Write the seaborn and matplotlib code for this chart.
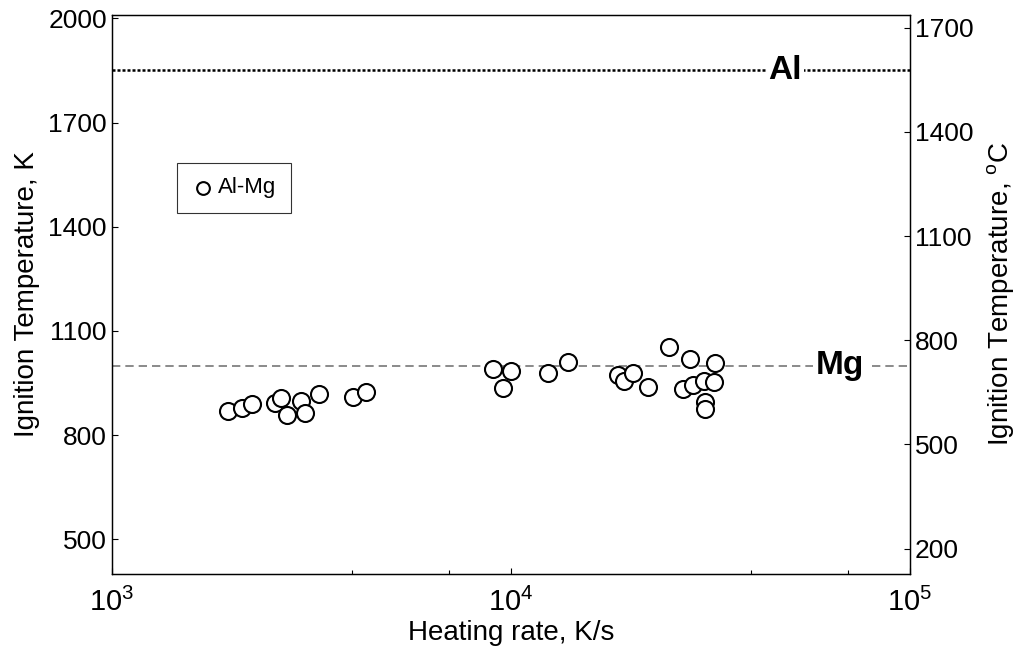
import matplotlib
matplotlib.use("Agg")
import matplotlib.pyplot as plt
import numpy as np
import pandas as pd
import seaborn as sns

# heating rate (K/s) and ignition temperature (K) for Al-Mg
heating_rate = [1953, 2118, 2243, 2562, 2652, 2746, 2977, 3046, 3302, 4018, 4331,
                9013, 9548, 10000, 12378, 13895, 18545, 19197, 20220, 22050,
                24889, 26990, 28095, 28584, 30458, 30635, 30635, 32275, 32460]
ignition_K = [869, 878, 889, 892, 907, 858, 898, 863, 918, 910, 924,
              990, 936, 985, 979, 1011, 973, 956, 979, 938,
              1054, 933, 1019, 944, 956, 895, 875, 953, 1008]

T_al = 1850
T_mg = 1000
left_ticks = [500, 800, 1100, 1400, 1700, 2000]
right_ticks = [200, 500, 800, 1100, 1400, 1700]
x_ticks = [1e3, 1e4, 1e5]
x_labels = ["$10^{3}$", "$10^{4}$", "$10^{5}$"]

df = pd.DataFrame({"rate": heating_rate, "T": ignition_K})

sns.set_style("ticks")
plt.rcParams['font.family'] = ['Liberation Sans', 'DejaVu Sans']
plt.rcParams['mathtext.fontset'] = 'custom'
plt.rcParams['mathtext.rm'] = 'Liberation Sans'
plt.rcParams['mathtext.it'] = 'Liberation Sans'
plt.rcParams['text.color'] = 'black'
plt.rcParams['axes.labelcolor'] = 'black'
plt.rcParams['xtick.color'] = 'black'
plt.rcParams['ytick.color'] = 'black'

fig, ax = plt.subplots(figsize=(10.26, 6.47), dpi=100)
fig.subplots_adjust(left=0.109, right=0.887, bottom=0.113, top=0.977)

ax.axhline(T_al, color="black", lw=1.8, ls=(0, (1.2, 0.8)), zorder=1)
ax.axhline(T_mg, color="#777777", lw=1.2, ls=(0, (5, 3)), zorder=1)

sns.scatterplot(data=df, x="rate", y="T", ax=ax, s=150, marker="o",
                facecolor="white", edgecolor="black", linewidth=1.5,
                label="Al-Mg", zorder=3)

ax.set_xscale("log")
ax.set_xlim(1e3, 1e5)
ax.set_ylim(400, 2010)
ax.set_yticks(left_ticks)
ax.set_xticks(x_ticks)
ax.set_xticklabels(x_labels)
ax.set_xticks([4e3, 7e3, 4e4, 7e4], minor=True)
ax.set_xticklabels([], minor=True)
ax.tick_params(which="both", direction="in", labelsize=19, length=4, width=0.8)
ax.tick_params(which="minor", length=3)
ax.tick_params(axis="x", labelsize=21, pad=10)
ax.set_xlabel("Heating rate, K/s", fontsize=20, labelpad=2)
ax.set_ylabel("Ignition Temperature, K", fontsize=20, labelpad=6)

ax.text(4.86e4, T_al, "Al", fontsize=24, fontweight="bold", ha="center", va="center",
        bbox=dict(facecolor="white", edgecolor="none", pad=2), zorder=2)
ax.text(6.68e4, T_mg, "Mg", fontsize=24, fontweight="bold", ha="center", va="center",
        bbox=dict(facecolor="white", edgecolor="none", pad=2), zorder=2)

leg = ax.legend(loc="upper left", bbox_to_anchor=(0.068, 0.755), fontsize=16,
                frameon=True, fancybox=False, handletextpad=0.2, handlelength=1.0,
                borderpad=0.65, markerscale=0.75)
leg.get_frame().set_edgecolor("black")
leg.get_frame().set_linewidth(0.8)

ax2 = ax.twinx()
ax2.set_ylim(400 - 273, 2010 - 273)
ax2.set_yticks(right_ticks)
ax2.tick_params(direction="in", labelsize=19, length=4, width=0.8)
ax2.set_ylabel("Ignition Temperature, $^{\\mathrm{o}}$C", fontsize=20, labelpad=8)

for a in (ax, ax2):
    for sp in a.spines.values():
        sp.set_linewidth(0.9)
        sp.set_color("black")

fig.savefig("out.png", dpi=100)
